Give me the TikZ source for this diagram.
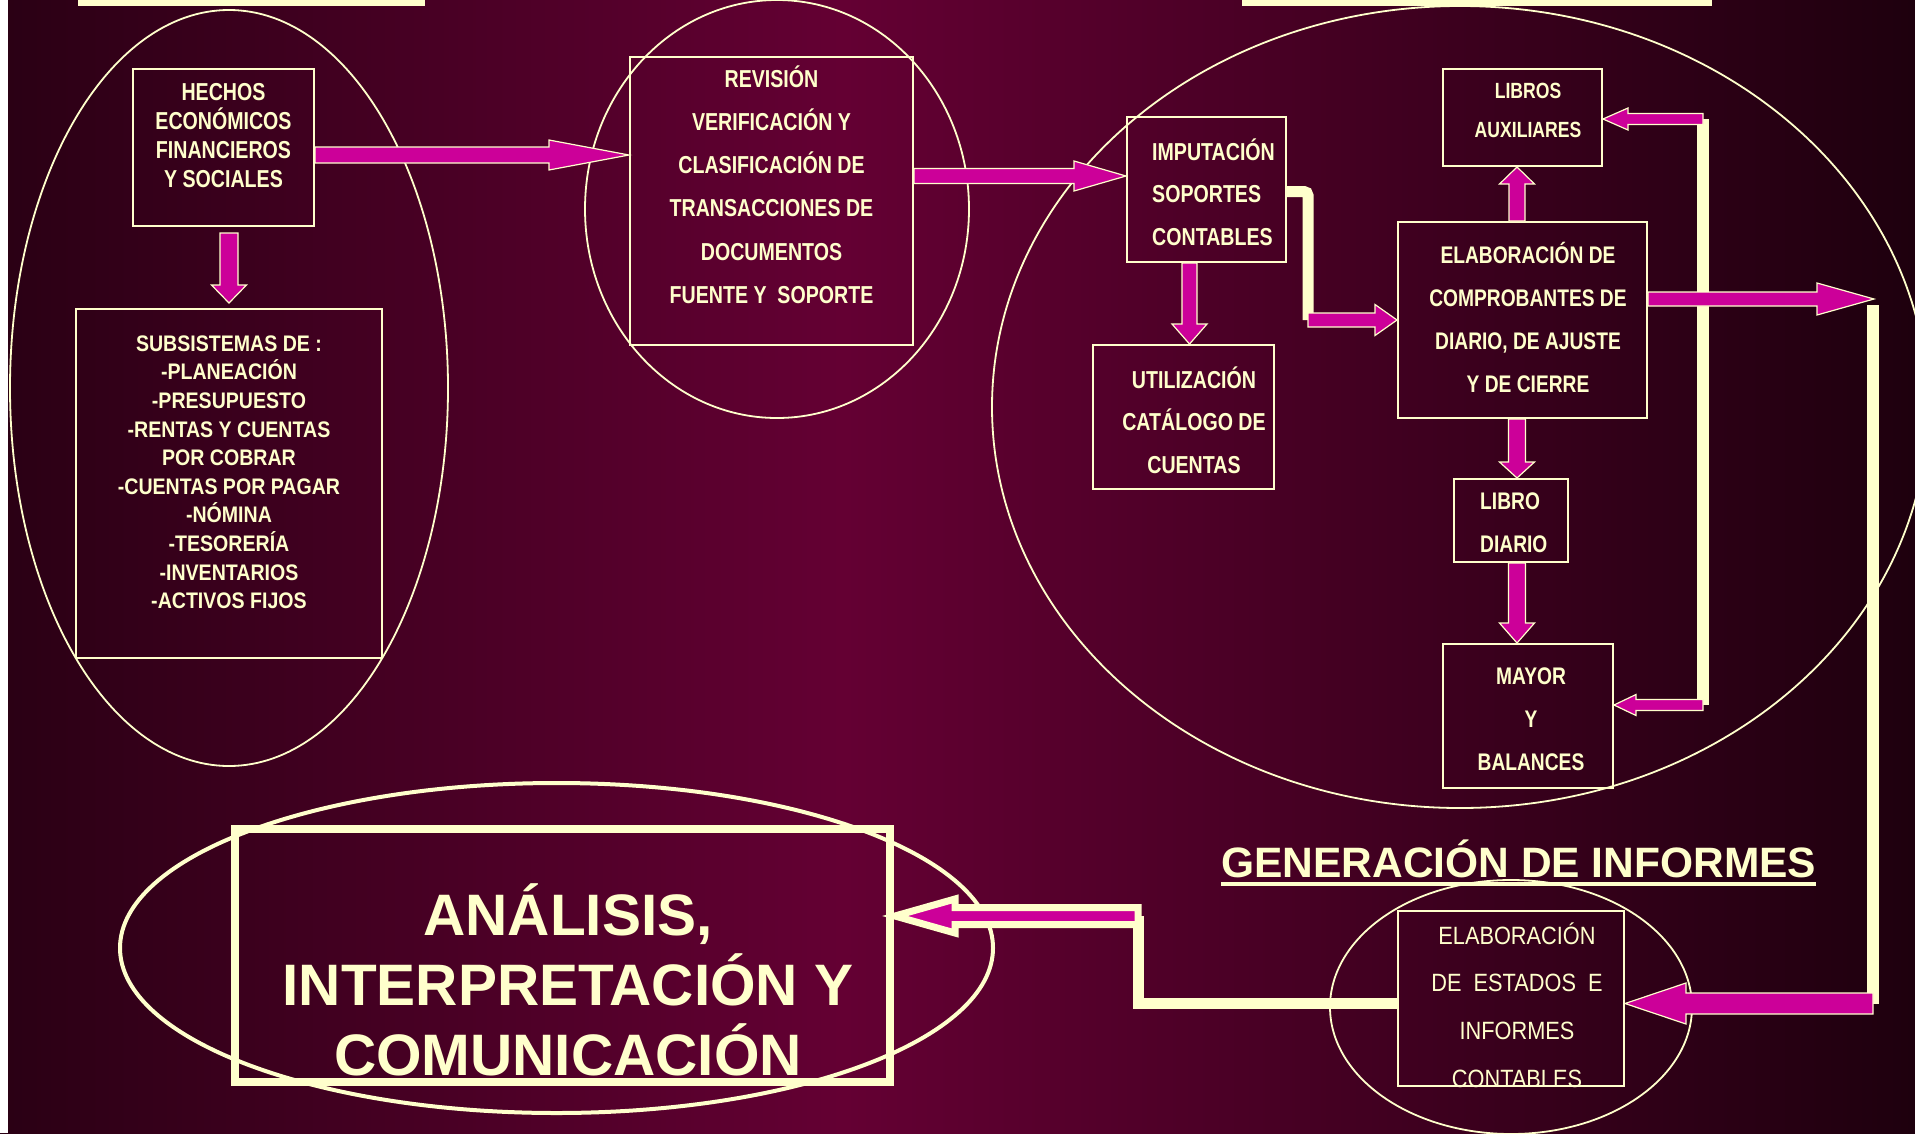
\documentclass[tikz,border=0pt]{standalone}
\usepackage{fontspec}
\setmainfont{Liberation Sans}
\newfontfamily\narrowf{Liberation Sans}[FakeStretch=0.8]
\newfontfamily\narrowg{Liberation Sans}[FakeStretch=0.87]
\usetikzlibrary{calc,shapes.geometric}
\definecolor{cream}{HTML}{FFFFCC}
\definecolor{mag}{HTML}{CC0099}
\definecolor{bgl}{HTML}{2A0014}
\definecolor{bgm}{HTML}{640033}
\definecolor{bgr}{HTML}{1E000E}
\pgfdeclarehorizontalshading{bgshade}{100bp}{color(0bp)=(bgl); color(25bp)=(bgl); color(47bp)=(bgm); color(75bp)=(bgr); color(100bp)=(bgr)}
\newcommand\tstr{\rule{0pt}{60pt}}
\newcommand\nbf{\narrowf\bfseries}
\newcommand\blockarrow[6][]{%
  \coordinate (bbase) at ($#3!#6pt!#2$);
  \draw[#1] ($#2!#4pt!90:#3$) -- ($(bbase)!#4pt!90:#3$) -- ($(bbase)!#5pt!90:#3$) -- #3 -- ($(bbase)!#5pt!-90:#3$) -- ($(bbase)!#4pt!-90:#3$) -- ($#2!#4pt!-90:#3$) -- cycle;}
\begin{document}
\begin{tikzpicture}[x=1pt,y=-1pt,
  thinbox/.style={draw=cream, line width=2pt, rectangle, inner sep=0pt},
  ell/.style={draw=cream, line width=1.8pt, ellipse, inner sep=0pt},
  txt/.style={text=cream, inner sep=0pt, align=center, anchor=north},
  ltxt/.style={text=cream, inner sep=0pt, align=left, anchor=north west},
  marrow/.style={fill=mag, draw=cream, line width=1.2pt, line join=miter},
  outlined/.style={fill=mag, draw=cream, line width=7pt, line join=miter, miter limit=10},
  creamline/.style={draw=cream, line width=11pt}]
\useasboundingbox (0,0) rectangle (1915,1133);
\shade[shading=bgshade] (0,0) rectangle (1915,1133);
\fill[white] (0,0) rectangle (8,1133);
\fill[cream] (78,0) rectangle (425,6);
\fill[cream] (1242,0) rectangle (1712,6);
% ellipses
\node[ell, minimum width=438pt, minimum height=756pt] (eL) at (229,388) {};
\node[ell, minimum width=384pt, minimum height=418pt] (eR) at (777,209) {};
\node[ell, minimum width=936pt, minimum height=802pt] (eBig) at (1460,407) {};
\node[ell, line width=4pt, minimum width=873pt, minimum height=330pt] (eA) at (556.5,948) {};
\node[ell, minimum width=362pt, minimum height=254pt] (eS) at (1511,1007) {};
% boxes
\node[thinbox, minimum width=181pt, minimum height=157pt] (hechos) at (223.5,147.5) {};
\node[thinbox, minimum width=306pt, minimum height=349pt] (subs) at (229,483.5) {};
\node[thinbox, minimum width=283pt, minimum height=288pt] (revision) at (771.5,201) {};
\node[thinbox, minimum width=159pt, minimum height=145pt] (imput) at (1206.5,189.5) {};
\node[thinbox, minimum width=181pt, minimum height=144pt] (util) at (1183.5,417) {};
\node[thinbox, minimum width=159pt, minimum height=97pt] (libros) at (1522.5,117.5) {};
\node[thinbox, minimum width=249pt, minimum height=196pt] (elab) at (1522.5,320) {};
\node[thinbox, minimum width=114pt, minimum height=83pt] (diario) at (1511,520.5) {};
\node[thinbox, minimum width=170pt, minimum height=144pt] (mayor) at (1528,716) {};
\node[thinbox, minimum width=226pt, minimum height=175pt] (estados) at (1511,998.5) {};
\node[thinbox, line width=8pt, minimum width=655pt, minimum height=253pt] (analisis) at (562.5,955.5) {};
% coordinates
\coordinate (k1) at (1308,191.5);
\coordinate (k2) at (1308,320);
\coordinate (v1t) at (1703,119);
\coordinate (v1b) at (1703,705);
\coordinate (v2t) at (1873,305);
\coordinate (v2b) at (1873,1003.5);
\coordinate (k3) at (1138,1003.5);
\coordinate (k4) at (1138,916);
\coordinate (a11) at (1874,299);
\coordinate (a15tip) at ($(analisis.east |- k4)+(1,0)$);
% cream connectors
\draw[creamline, rounded corners=4pt] (imput.east |- k1) -- (k1) -- (k2);
\draw[cream, line width=12pt] (v1t) -- (v1b);
\draw[cream, line width=12pt] (v2t) -- (v2b);
\draw[creamline] (estados.west |- k3) -- (k3) -- (k4);
% magenta arrows
\coordinate (a0t) at ($(hechos.south -| 229,0)+(0,6)$);
\coordinate (a0h) at ($(subs.north -| 229,0)+(0,-5)$);
\blockarrow[marrow]{(a0t)}{(a0h)}{9}{17.5}{18}
\coordinate (a1t) at (hechos.east |- 0,155);
\coordinate (a1h) at (revision.west |- 0,155);
\blockarrow[marrow]{(a1t)}{(a1h)}{8}{15}{80}
\coordinate (a2t) at (revision.east |- 0,176);
\coordinate (a2h) at (imput.west |- 0,176);
\blockarrow[marrow]{(a2t)}{(a2h)}{7.5}{15}{52}
\coordinate (a3t) at (imput.south -| 1189.5,0);
\coordinate (a3h) at (util.north -| 1189.5,0);
\blockarrow[marrow]{(a3t)}{(a3h)}{7.5}{17.5}{20}
\coordinate (a4h) at (elab.west |- k2);
\blockarrow[marrow]{(k2)}{(a4h)}{7}{15.5}{22}
\coordinate (a5t) at (elab.north -| 1517,0);
\coordinate (a5h) at (libros.south -| 1517,0);
\blockarrow[marrow]{(a5t)}{(a5h)}{8}{17.5}{17}
\coordinate (a6t) at (elab.south -| 1517,0);
\coordinate (a6h) at (diario.north -| 1517,0);
\blockarrow[marrow]{(a6t)}{(a6h)}{8.5}{17.5}{16}
\coordinate (a7t) at (diario.south -| 1517,0);
\coordinate (a7h) at (mayor.north -| 1517,0);
\blockarrow[marrow]{(a7t)}{(a7h)}{8.5}{17.5}{20}
\coordinate (a9h) at (libros.east |- v1t);
\blockarrow[marrow]{(v1t)}{(a9h)}{5.5}{11}{25}
\coordinate (a10h) at (mayor.east |- v1b);
\blockarrow[marrow]{(v1b)}{(a10h)}{5.5}{10.5}{22}
\coordinate (a11t) at (elab.east |- a11);
\blockarrow[marrow]{(a11t)}{(a11)}{7}{16}{57}
\coordinate (a13h) at (estados.east |- v2b);
\blockarrow[marrow]{(v2b)}{(a13h)}{10.5}{20.5}{61}
\blockarrow[outlined]{(k4)}{(a15tip)}{8.5}{17}{60}
% texts
\node[txt, font=\nbf\fontsize{24.5}{29}\selectfont] (hechosT) at (223.5,40) {\tstr HECHOS\\ECONÓMICOS\\FINANCIEROS\\Y SOCIALES};
\node[txt, font=\narrowg\bfseries\fontsize{22.5}{28.6}\selectfont] (subsT) at (229,291) {\tstr SUBSISTEMAS DE :\\-PLANEACIÓN\\-PRESUPUESTO\\-RENTAS Y CUENTAS\\POR COBRAR\\-CUENTAS POR PAGAR\\-NÓMINA\\-TESORERÍA\\-INVENTARIOS\\-ACTIVOS FIJOS};
\node[txt, font=\nbf\fontsize{24.5}{43.2}\selectfont] (revT) at (771.5,27) {\tstr REVISIÓN\\VERIFICACIÓN Y\\CLASIFICACIÓN DE\\TRANSACCIONES DE\\DOCUMENTOS\\FUENTE Y \ SOPORTE};
\node[ltxt, font=\nbf\fontsize{24.5}{42.5}\selectfont] (imputT) at (1152,100) {\tstr IMPUTACIÓN\\SOPORTES\\CONTABLES};
\node[txt, font=\nbf\fontsize{24.5}{42.5}\selectfont] (utilT) at (1194,328) {\tstr UTILIZACIÓN\\CATÁLOGO DE\\CUENTAS};
\node[txt, font=\nbf\fontsize{22}{39}\selectfont] (librosT) at (1528,38) {\tstr LIBROS\\AUXILIARES};
\node[txt, font=\nbf\fontsize{24}{43}\selectfont] (elabT) at (1528,203) {\tstr ELABORACIÓN DE\\COMPROBANTES DE\\DIARIO, DE AJUSTE\\Y DE CIERRE};
\node[ltxt, font=\nbf\fontsize{24}{43}\selectfont] (diarioT) at (1480,449) {\tstr LIBRO\\DIARIO};
\node[txt, font=\nbf\fontsize{24}{43}\selectfont] (mayorT) at (1531,624) {\tstr MAYOR\\Y\\BALANCES};
\node[txt, font=\narrowg\fontsize{25}{47.7}\selectfont] (estadosT) at (1517,884) {\tstr ELABORACIÓN\\DE \ ESTADOS \ E\\INFORMES\\CONTABLES};
\node[txt, font=\bfseries\fontsize{58.5}{70}\selectfont] (analisisT) at (568,875) {\tstr ANÁLISIS,\\INTERPRETACIÓN Y\\COMUNICACIÓN};
\node[anchor=base west, inner sep=0pt, text=cream, font=\bfseries\fontsize{42.5}{50}\selectfont] (title) at (1221,877) {GENERACIÓN DE INFORMES};
\draw[cream, line width=4pt] ($(title.base west)+(0,7)$) -- ($(title.base east)+(0,7)$);
\end{tikzpicture}
\end{document}
